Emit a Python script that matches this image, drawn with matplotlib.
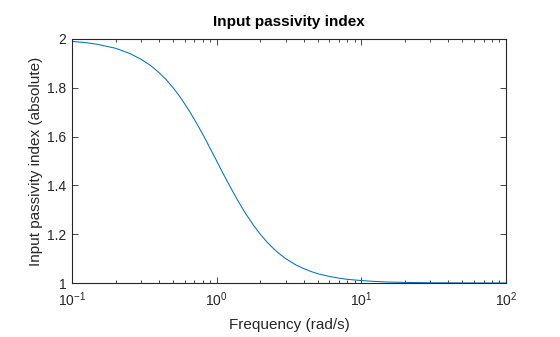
import matplotlib
matplotlib.use("Agg")
import matplotlib.pyplot as plt
from matplotlib.ticker import LogLocator, LogFormatterSciNotation, FixedLocator, NullLocator, NullFormatter

# Values
frequency = [0.1, 0.125, 0.15, 0.2, 0.25, 0.3, 0.35, 0.4, 0.45, 0.5, 0.55, 0.6, 0.65, 0.7,
             0.75, 0.8, 0.85, 0.9, 0.95, 1.0, 1.1, 1.2, 1.3, 1.4, 1.5, 1.6, 1.8, 2.0,
             2.25, 2.5, 2.75, 3.0, 3.5, 4.0, 4.5, 5.0, 6.0, 7.0, 8.0, 10.0, 12.0, 15.0,
             20.0, 30.0, 50.0, 100.0]
passivity = [1.990, 1.985, 1.978, 1.962, 1.941, 1.917, 1.891, 1.862, 1.832, 1.800, 1.768,
             1.735, 1.703, 1.671, 1.640, 1.610, 1.581, 1.552, 1.526, 1.500, 1.452, 1.410,
             1.372, 1.338, 1.308, 1.281, 1.236, 1.200, 1.165, 1.138, 1.117, 1.100, 1.075,
             1.059, 1.047, 1.038, 1.027, 1.020, 1.015, 1.010, 1.007, 1.004, 1.0025, 1.001,
             1.0004, 1.0001]
y_ticks = [1, 1.2, 1.4, 1.6, 1.8, 2]
y_tick_labels = ["1", "1.2", "1.4", "1.6", "1.8", "2"]

plt.rcParams['font.family'] = ['Liberation Sans', 'DejaVu Sans']
plt.rcParams['mathtext.fontset'] = 'custom'
plt.rcParams['mathtext.rm'] = 'Liberation Sans'
plt.rcParams['mathtext.it'] = 'Liberation Sans'

fig = plt.figure(figsize=(5.6, 3.37), dpi=100)
ax = fig.add_axes([0.1286, 0.1602, 0.7750, 0.7241])

ax.plot(frequency, passivity, color='#0072BD', linewidth=0.75)
ax.set_xscale('log')
ax.set_xlim(0.1, 100)
ax.set_ylim(1, 2)

ax.xaxis.set_major_locator(LogLocator(base=10, numticks=10))
ax.xaxis.set_major_formatter(LogFormatterSciNotation())
ax.xaxis.set_minor_locator(LogLocator(base=10, subs=range(2, 10), numticks=20))
ax.xaxis.set_minor_formatter(NullFormatter())
ax.yaxis.set_major_locator(FixedLocator(y_ticks))
ax.set_yticklabels(y_tick_labels)
ax.yaxis.set_minor_locator(NullLocator())

edge = '#262626'
for s in ax.spines.values():
    s.set_color(edge)
    s.set_linewidth(0.8)
ax.tick_params(which='both', direction='in', top=True, right=True, colors=edge,
               labelsize=10, width=0.6)
ax.tick_params(which='major', length=4)
ax.tick_params(which='minor', length=2.5)
ax.tick_params(axis='x', pad=5)
ax.tick_params(axis='y', pad=4)

ax.set_title('Input passivity index', fontsize=11, fontweight='bold', color='#000000', pad=9.5)
ax.set_xlabel('Frequency (rad/s)', fontsize=11, color='#262626', labelpad=7)
ax.set_ylabel('Input passivity index (absolute)', fontsize=11, color='#262626', labelpad=3)

fig.savefig('out.png', dpi=100)
